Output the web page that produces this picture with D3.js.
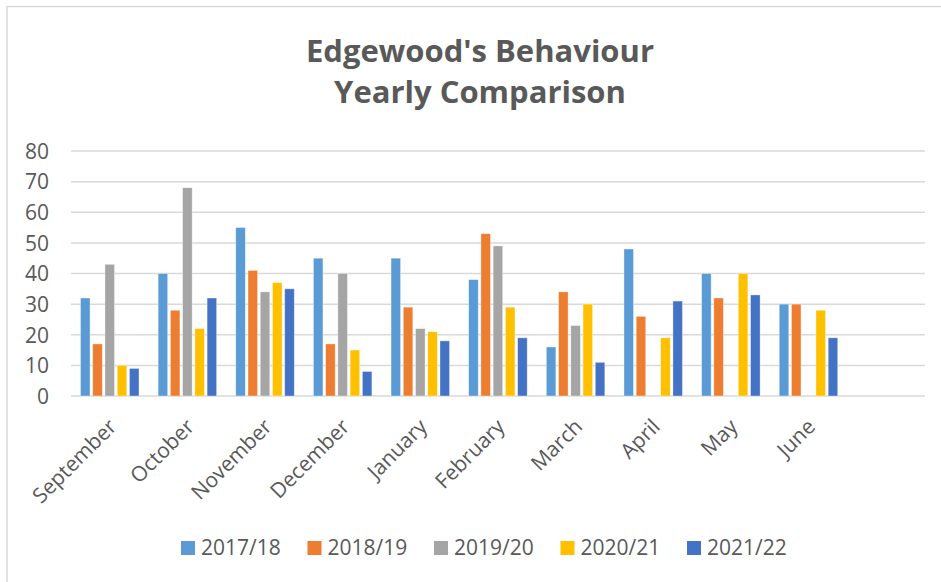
<!DOCTYPE html>
<html>
<head>
<meta charset="utf-8">
<script src="https://cdn.jsdelivr.net/npm/d3@7"></script>
<style>
    body {
        margin: 0;
        background: #ffffff;
    }
    #chart-container {
        width: 941px;
        height: 582px;
    }
    text {
        font-family: "Open Sans", sans-serif;
        fill: #595959;
    }
</style>
</head>
<body>
<div id="chart-container"></div>
<script>
const months = ["September", "October", "November", "December", "January",
    "February", "March", "April", "May", "June", ""];
const seriesNames = ["2017/18", "2018/19", "2019/20", "2020/21", "2021/22"];
const seriesColors = ["#5B9BD5", "#ED7D31", "#A5A5A5", "#FFC000", "#4472C4"];
const values1718 = [32, 40, 55, 45, 45, 38, 16, 48, 40, 30, null];
const values1819 = [17, 28, 41, 17, 29, 53, 34, 26, 32, 30, null];
const values1920 = [43, 68, 34, 40, 22, 49, 23, null, null, null, null];
const values2021 = [10, 22, 37, 15, 21, 29, 30, 19, 40, 28, null];
const values2122 = [9, 32, 35, 8, 18, 19, 11, 31, 33, 19, null];
const yTicks = [0, 10, 20, 30, 40, 50, 60, 70, 80];
const titleLines = ["Edgewood's Behaviour", "Yearly Comparison"];

const allSeries = [values1718, values1819, values1920, values2021, values2122];

let svg;
let xScale;
let innerScale;
let yScale;
let plot = {
    left: 71,
    right: 925,
    top: 151,
    bottom: 396
};

function initViz() {
    svg = d3.select("#chart-container")
        .append("svg")
        .attr("width", 941)
        .attr("height", 582);

    // chart frame, only top and left edges fall inside the window
    svg.append("rect")
        .attr("x", 7)
        .attr("y", 6.5)
        .attr("width", 960)
        .attr("height", 600)
        .style("fill", "none")
        .style("stroke", "#d9d9d9")
        .style("stroke-width", 1.5);

    xScale = d3.scaleBand()
        .domain(d3.range(months.length))
        .range([plot.left, plot.right]);

    innerScale = d3.scaleBand()
        .domain(d3.range(seriesNames.length))
        .range([9.5, 68])
        .paddingInner(0.22);

    yScale = d3.scaleLinear()
        .domain([0, 80])
        .range([plot.bottom, plot.top]);

    drawTitle();
    drawGrid();
    drawBars();
    drawAxes();
    drawLegend();
}

function drawTitle() {
    svg.selectAll(".title")
        .data(titleLines)
        .enter()
        .append("text")
        .attr("class", "title")
        .attr("x", 480)
        .attr("y", (d, i) => 62 + i * 41)
        .attr("text-anchor", "middle")
        .style("font-size", "31px")
        .style("font-weight", "bold")
        .text(d => d);
}

function drawGrid() {
    svg.selectAll(".grid")
        .data(yTicks)
        .enter()
        .append("line")
        .attr("class", "grid")
        .attr("x1", plot.left)
        .attr("x2", plot.right)
        .attr("y1", d => yScale(d))
        .attr("y2", d => yScale(d))
        .style("stroke", "#d9d9d9")
        .style("stroke-width", 1.5);
}

function drawBars() {
    allSeries.forEach((vals, s) => {
        svg.selectAll(".bar-" + s)
            .data(vals.map((v, i) => ({ i: i, v: v })).filter(d => d.v !== null))
            .enter()
            .append("rect")
            .attr("class", "bar-" + s)
            .attr("x", d => xScale(d.i) + innerScale(s))
            .attr("width", innerScale.bandwidth())
            .attr("y", d => yScale(d.v))
            .attr("height", d => yScale(0) - yScale(d.v))
            .style("fill", seriesColors[s])
            .style("stroke", "#ffffff")
            .style("stroke-opacity", 0.5)
            .style("stroke-width", 0.7);
    });
}

function drawAxes() {
    const yAxis = svg.append("g")
        .attr("class", "y-axis")
        .attr("transform", `translate(${plot.left - 22},0)`)
        .call(d3.axisLeft(yScale)
            .tickValues(yTicks)
            .tickSize(0)
            .tickPadding(0));

    yAxis.select(".domain").remove();
    yAxis.selectAll("text")
        .attr("dy", "0.35em")
        .style("font-size", "21px")
        .style("font-family", "'Open Sans', sans-serif")
        .style("fill", "#595959");

    svg.selectAll(".month-label")
        .data(months)
        .enter()
        .append("text")
        .attr("class", "month-label")
        .attr("text-anchor", "end")
        .attr("transform", (d, i) =>
            `translate(${xScale(i) + xScale.bandwidth() / 2 + 8},428) rotate(-45)`)
        .style("font-size", "21px")
        .text(d => d);
}

function drawLegend() {
    const legend = svg.selectAll(".legend")
        .data(seriesNames)
        .enter()
        .append("g")
        .attr("class", "legend")
        .attr("transform", (d, i) => `translate(${181 + i * 126.5},541)`);

    legend.append("rect")
        .attr("width", 14)
        .attr("height", 14)
        .style("fill", (d, i) => seriesColors[i]);

    legend.append("text")
        .attr("x", 20)
        .attr("y", 7)
        .attr("dy", "0.35em")
        .style("font-size", "21px")
        .text(d => d);
}

window.addEventListener('load', initViz);
</script>
</body>
</html>
